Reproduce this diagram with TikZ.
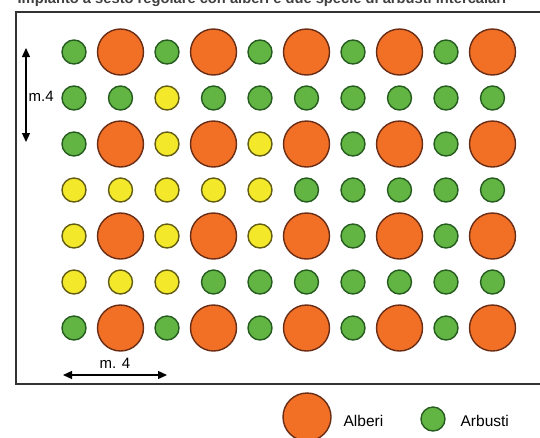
\documentclass[tikz,border=0pt]{standalone}
\usepackage{fontspec}
\setmainfont{Liberation Sans}
\usetikzlibrary{arrows.meta}
\definecolor{alberofill}{RGB}{241,112,38}
\definecolor{alberoline}{RGB}{105,45,22}
\definecolor{arbustofill}{RGB}{98,181,67}
\definecolor{arbustoline}{RGB}{38,92,32}
\definecolor{giallofill}{RGB}{243,233,42}
\definecolor{gialloline}{RGB}{98,92,20}
\begin{document}
\begin{tikzpicture}[x=1pt,y=-1pt,line width=1.3pt,>={Triangle[length=9pt,width=8pt]}]
\tikzset{pianta/.style={circle,inner sep=0pt,line width=1.4pt},
  alb/.style={pianta,minimum size=46pt,fill=alberofill,draw=alberoline},
  arb/.style={pianta,minimum size=24pt,fill=arbustofill,draw=arbustoline},
  gia/.style={pianta,minimum size=24pt,fill=giallofill,draw=gialloline},
  quota/.style={font=\fontsize{15}{17}\selectfont,inner sep=1pt}}
\useasboundingbox (0,0) rectangle (540,437);
% ---- titolo, tagliato dal bordo ----
\node[anchor=base west,inner sep=0pt,text=black!75,font=\bfseries\fontsize{14.7}{17}\selectfont]
  (titolo) at (17,3.5) {Impianto a sesto regolare con alberi e due specie di arbusti intercalari};
% ---- cornice ----
\draw[line width=2pt,black!80] (16,12) rectangle (560,384);
% ---- griglia: 7 file x 10 piante ----
\foreach \riga [count=\r] in {{arb,alb,arb,alb,arb,alb,arb,alb,arb,alb},
  {arb,arb,gia,arb,arb,arb,arb,arb,arb,arb},
  {arb,alb,gia,alb,gia,alb,arb,alb,arb,alb},
  {gia,gia,gia,gia,gia,arb,arb,arb,arb,arb},
  {gia,alb,gia,alb,gia,alb,arb,alb,arb,alb},
  {gia,gia,gia,arb,arb,arb,arb,arb,arb,arb},
  {arb,alb,arb,alb,arb,alb,arb,alb,arb,alb}}{
  \foreach \t [count=\c] in \riga{
    \node[\t] (p\r-\c) at ({74+46.5*(\c-1)},{52+46*(\r-1)}) {};
  }}
% ---- quote ----
\coordinate (vtop) at (26,48);
\coordinate (vbot) at (26,142);
\draw[<->] (vtop) -- (vbot);
\node[quota,anchor=west] (mvert) at (27,96) {m.4};
\coordinate (hsx) at (63,375);
\coordinate (hdx) at (167,375);
\draw[<->] (hsx) -- (hdx);
\node[quota] (moriz) at (115,363) {m. 4};
% ---- legenda ----
\node[alb,minimum size=48pt] (legalb) at (307,417) {};
\node[quota,font=\fontsize{15.5}{17}\selectfont,anchor=west] (txtalb) at (342,421) {Alberi};
\node[arb] (legarb) at (433,419) {};
\node[quota,font=\fontsize{15.5}{17}\selectfont,anchor=west] (txtarb) at (459,421) {Arbusti};
\end{tikzpicture}
\end{document}
